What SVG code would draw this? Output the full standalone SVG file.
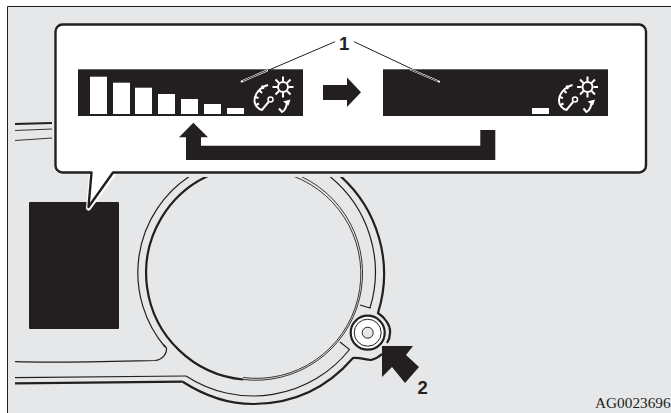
<svg xmlns="http://www.w3.org/2000/svg" width="671" height="413" viewBox="0 0 671 413">
<style>
.k{fill:#231f20}
.w{fill:#fff}
.t{fill:none;stroke:#231f20;stroke-width:.9}
.m{fill:none;stroke:#231f20;stroke-width:1.2}
.h{fill:none;stroke:#231f20;stroke-width:2.2}
.i{fill:none;stroke:#fff;stroke-width:2}
.lab{font-family:"Liberation Sans",Arial,sans-serif;font-weight:700;font-size:18.5px;fill:#231f20}
</style>
<defs>
<clipPath id="below"><rect x="0" y="177" width="671" height="236"/></clipPath>
<g id="icon">
<path class="i" d="M268 85C260 87 254.500 94 254.500 101C254.500 105 258 109 262 110L268.500 102"/>
<path class="i" d="M259 90L262 93M255 97L258.500 98M256 105L259 103.500M262 85.500L263.500 89"/>
<circle cx="270.500" cy="99.500" r="2.500" fill="#231f20" stroke="#fff" stroke-width="1.500"/>
<circle cx="283" cy="87" r="5" fill="#231f20" stroke="#fff" stroke-width="2"/>
<path class="i" d="M283 76.500V81M283 93V97.500M272.500 87H277M289 87H293.500M275.500 79.500L279 83M287 91L290.500 94.500M290.500 79.500L287 83M279 91L275.500 94.500"/>
<path class="i" d="M279 108.500L282 112C285.500 110 287 106 287 101"/>
<path class="w" d="M283 101.500L290.500 99.500L288.500 105.500Z"/>
</g>
</defs>
<rect x="0" y="0" width="671" height="413" fill="#fff"/>
<g id="panel">
<path d="M671 6.500H7.500V413H671Z" fill="#e6e7e8"/>
<path d="M671 6.500H7.500V413" fill="none" stroke="#231f20" stroke-width="1"/>
</g>
<g id="cluster">
<path class="h" d="M15 124L52 123"/>
<path class="t" d="M15 130.500L52 129M15 140.500L52 138"/>
<path class="m" d="M15 361.700C60 363 110 361.500 155 360.500C162 360 167 354 166.500 348L164 345"/>
<path class="m" d="M15 377.700L186 376"/>
<path class="h" d="M15 383.300L182.700 381.700"/>
<g clip-path="url(#below)">
<path class="m" d="M190 176A115.500 115.500 0 0 0 165 347"/>
<path class="h" d="M215 173A107 107 0 0 0 243 379.500"/>
<path class="t" d="M243 379.500A107 107 0 0 0 293 173"/>
<path class="t" d="M243 377.500A104.500 104.500 0 0 0 293 176"/>
<path class="m" d="M186 376A123 123 0 0 0 349.500 349.500L340 342"/>
<path class="m" d="M328 175A123 123 0 0 1 370 308L360 305"/>
<path class="h" d="M338 174A131 131 0 0 1 378 313C384 317 391 325 390 333C390 337 389 340 387 343"/>
<path class="h" d="M182.700 381.700C205 396 228 404 253 404C293 404 327 388 353 358C360 357 365 360 371 360C375 359 379 357 382 354"/>
</g>
</g>
<g id="knob">
<circle cx="367.700" cy="332.700" r="17" fill="#fff" stroke="#231f20" stroke-width="2.200"/>
<circle cx="367.700" cy="332.700" r="13.500" fill="#fff" stroke="#231f20" stroke-width="1"/>
<circle cx="367.700" cy="332.700" r="5.500" fill="#e6e7e8" stroke="#231f20" stroke-width="1"/>
</g>
<g id="box"><rect class="k" x="29" y="202" width="90" height="127" rx="1"/></g>
<g id="callout">
<path d="M88.500 208L91.500 175L113 175Z" fill="#fff" stroke="#fff" stroke-width="5" stroke-linejoin="round"/>
<path d="M62.500 24.500H639A7 7 0 0 1 646 31.500V165.500A7 7 0 0 1 639 172.500H113L88.500 207L91.500 172.500H62.500A7 7 0 0 1 55.500 165.500V31.500A7 7 0 0 1 62.500 24.500Z" fill="#fff" stroke="#231f20" stroke-width="2.400" stroke-linejoin="round"/>
</g>
<g id="display-left">
<rect class="k" x="78" y="69.300" width="225" height="46.700"/>
<g class="w">
<rect x="90" y="76.700" width="17" height="37.300"/>
<rect x="113" y="82.700" width="17" height="31.300"/>
<rect x="135" y="87.700" width="17" height="26.300"/>
<rect x="158" y="94" width="17" height="20"/>
<rect x="181" y="99" width="17" height="15"/>
<rect x="204" y="104" width="17" height="10"/>
<rect x="227" y="108" width="17" height="6"/>
</g>
<use href="#icon"/>
</g>
<g id="display-right">
<rect class="k" x="383" y="69.300" width="225" height="46.700"/>
<rect class="w" x="532" y="108" width="17" height="6"/>
<use href="#icon" x="304.500"/>
</g>
<g id="connectors">
<path class="k" d="M323 85H347V77.500L361 92.300L347 107V100H323Z"/>
<path class="k" d="M193.300 122.700L208 137.300H201V145.700H480.300V130H495.300V160H186V137.300H179Z"/>
<path d="M335 41.700L241.700 81.700M354 41.700L439 81.700" fill="none" stroke="#231f20" stroke-width="1"/>
<path d="M267 70.500L241.700 81.500M411 69.700L439 81.700" fill="none" stroke="#fff" stroke-width="2" stroke-linecap="round"/>
<path d="M267 70.500L242.500 81.100M411 69.700L438 81.300" fill="none" stroke="#231f20" stroke-width=".9"/>
<path class="k" d="M382 346H413L406 355L419 367L405 383L392 367L382 377Z"/>
</g>
<g id="labels">
<text class="lab" x="339" y="49.500">1</text>
<text class="lab" x="417.500" y="394">2</text>
<text x="595" y="408" font-family="'Liberation Serif','Times New Roman',serif" font-size="15.300" fill="#231f20">AG0023696</text>
</g>
</svg>
